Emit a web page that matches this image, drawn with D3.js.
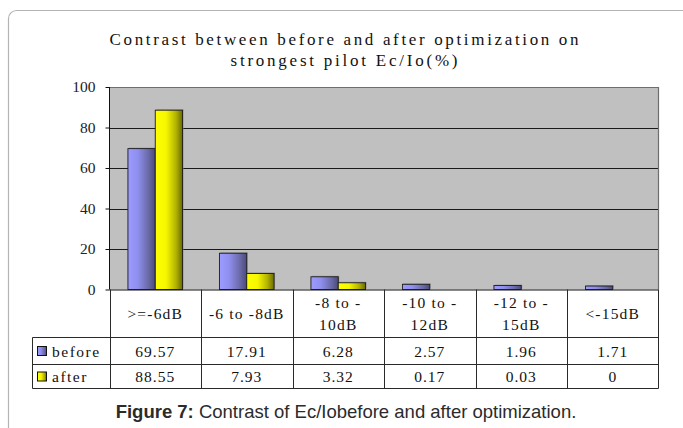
<!DOCTYPE html>
<html>
<head>
<meta charset="utf-8">
<script src="https://cdn.jsdelivr.net/npm/d3@7"></script>
<style>
  html, body { margin: 0; padding: 0; background: #fff; }
  svg { display: block; }
</style>
</head>
<body>
<svg id="chart" width="683" height="428"></svg>
<script>
// Strongest pilot Ec/Io distribution (%), before and after optimization
const categories = [">=-6dB", "-6 to -8dB", "-8 to -\n10dB", "-10 to -\n12dB", "-12 to -\n15dB", "<-15dB"];
const before = [69.57, 17.91, 6.28, 2.57, 1.96, 1.71];
const after = [88.55, 7.93, 3.32, 0.17, 0.03, 0];
const beforeText = ["69.57", "17.91", "6.28", "2.57", "1.96", "1.71"];
const afterText = ["88.55", "7.93", "3.32", "0.17", "0.03", "0"];
const yTicks = [0, 20, 40, 60, 80, 100];
const seriesNames = ["before", "after"];
const titleLines = ["Contrast between before and after optimization on", "strongest pilot Ec/Io(%)"];

const SERIF = "'Liberation Serif', 'Times New Roman', 'DejaVu Serif', serif";
const svg = d3.select("#chart");

// plot geometry
const plotL = 109.5, plotR = 658.5, plotT = 87, plotB = 289.5;
const rowHeader = 337.5, rowBefore = 364.5, rowAfter = 388.5, legendLeft = 32.5;

// outer frame
svg.append("rect")
  .attr("x", 8.5).attr("y", 10.5)
  .attr("width", 682).attr("height", 460)
  .attr("rx", 8)
  .attr("fill", "#fff").attr("stroke", "#b4b4b4").attr("stroke-width", 1.2);

// gradients
const defs = svg.append("defs");
function grad(id, stops) {
  const g = defs.append("linearGradient").attr("id", id)
    .attr("x1", "0%").attr("x2", "100%").attr("y1", "0%").attr("y2", "0%");
  stops.forEach(s => g.append("stop").attr("offset", s[0]).attr("stop-color", s[1]));
}
grad("gBefore", [[0, "#9c9cff"], [0.35, "#8f8ff0"], [0.75, "#6a6aa8"], [1, "#4a4a7c"]]);
grad("gAfter", [[0, "#ffff00"], [0.4, "#f6f600"], [0.75, "#b4b400"], [1, "#6a6a00"]]);
const fills = { before: "url(#gBefore)", after: "url(#gAfter)" };

function serifText(sel, size, spacing) {
  return sel.style("font-family", SERIF)
    .style("font-size", size + "px")
    .style("letter-spacing", (spacing || 0) + "px")
    .attr("fill", "#111");
}

// title
const titleWidths = [469, 227];
serifText(svg.append("g").selectAll("text").data(titleLines).join("text")
  .attr("x", 344)
  .attr("y", (d, i) => 45 + i * 21)
  .attr("text-anchor", "middle")
  .attr("textLength", (d, i) => titleWidths[i])
  .attr("lengthAdjust", "spacing"), 17)
  .text(d => d);

// scales
const x = d3.scaleBand().domain(d3.range(categories.length)).range([plotL, plotR]).padding(0);
const xs = d3.scaleBand().domain(seriesNames).range([0, x.bandwidth()]).paddingInner(0).paddingOuter(0.675);
const y = d3.scaleLinear().domain([0, 100]).range([plotB, plotT]);

// plot background
svg.append("rect")
  .attr("x", plotL).attr("y", plotT)
  .attr("width", plotR - plotL).attr("height", plotB - plotT)
  .attr("fill", "#c0c0c0");

// gridlines
svg.append("g").selectAll("line").data(yTicks.filter(t => t > 0 && t < 100)).join("line")
  .attr("x1", plotL).attr("x2", plotR)
  .attr("y1", d => Math.round(y(d)) + 0.5).attr("y2", d => Math.round(y(d)) + 0.5)
  .attr("stroke", "#1a1a1a").attr("stroke-width", 1);

// plot border (top and right)
svg.append("path")
  .attr("d", `M${plotL},${plotT + 0.5}H${plotR}V${plotB}`)
  .attr("fill", "none").attr("stroke", "#6e6e6e").attr("stroke-width", 1.2);

// bars (bars thinner than a pixel vanish into the axis line)
const series = [before, after];
const barG = svg.append("g");
const barH = v => Math.max(0, plotB - y(v));
seriesNames.forEach((name, si) => {
  const data = series[si].map((v, i) => ({ i, v })).filter(d => barH(d.v) >= 1);
  // soft drop shadow
  barG.append("g").selectAll("rect").data(data).join("rect")
    .attr("x", d => x(d.i) + xs(name) + 1)
    .attr("y", d => y(d.v) - 1)
    .attr("width", xs.bandwidth())
    .attr("height", d => barH(d.v))
    .attr("fill", "#8a8a8a").attr("opacity", 0.7);
  barG.append("g").selectAll("rect").data(data).join("rect")
    .attr("x", d => x(d.i) + xs(name))
    .attr("y", d => y(d.v))
    .attr("width", xs.bandwidth())
    .attr("height", d => barH(d.v))
    .attr("fill", fills[name])
    .attr("stroke", "#1c1c1c").attr("stroke-width", 0.9);
});

// y axis
const yAxis = d3.axisLeft(y).tickValues(yTicks).tickSize(4).tickPadding(10);
const ya = svg.append("g").attr("transform", `translate(${plotL},0)`).call(yAxis);
ya.attr("font-family", null);
ya.select(".domain").attr("stroke", "#111").attr("d", `M0,${plotT}V${plotB}`);
ya.selectAll(".tick line").attr("stroke", "#111");
serifText(ya.selectAll(".tick text"), 15.5).attr("fill", "#222");

// x axis baseline
svg.append("line")
  .attr("x1", plotL).attr("x2", plotR)
  .attr("y1", plotB + 0.5).attr("y2", plotB + 0.5)
  .attr("stroke", "#111").attr("stroke-width", 1.2);

// data table
const tbl = svg.append("g").attr("stroke", "#2a2a2a").attr("stroke-width", 1);
// column separators in the header row
tbl.selectAll("line.hdr").data(d3.range(categories.length + 1)).join("line")
  .attr("class", "hdr")
  .attr("x1", i => i < categories.length ? Math.round(x(i)) + 0.5 : plotR)
  .attr("x2", i => i < categories.length ? Math.round(x(i)) + 0.5 : plotR)
  .attr("y1", plotB).attr("y2", rowAfter);
// legend column edge
tbl.append("line").attr("x1", legendLeft).attr("x2", legendLeft).attr("y1", rowHeader).attr("y2", rowAfter);
// horizontal rules
[rowHeader, rowBefore, rowAfter].forEach(yy => {
  tbl.append("line").attr("x1", legendLeft).attr("x2", plotR).attr("y1", yy).attr("y2", yy);
});

// category labels
const hdr = svg.append("g");
categories.forEach((c, i) => {
  const lines = c.split("\n");
  const cy = (plotB + rowHeader) / 2;
  const t = serifText(hdr.append("text").attr("text-anchor", "middle"), 15.5, 1.2);
  lines.forEach((ln, k) => {
    t.append("tspan")
      .attr("x", x(i) + x.bandwidth() / 2)
      .attr("y", cy + 5 + (k - (lines.length - 1) / 2) * 22)
      .text(ln);
  });
});

// value rows
const rowTexts = [beforeText, afterText];
const rowMid = [(rowHeader + rowBefore) / 2, (rowBefore + rowAfter) / 2];
rowTexts.forEach((vals, r) => {
  serifText(svg.append("g").selectAll("text").data(vals).join("text")
    .attr("x", (d, i) => x(i) + x.bandwidth() / 2)
    .attr("y", rowMid[r] + 5.5)
    .attr("text-anchor", "middle"), 15.5, 1)
    .text(d => d);
  // legend key
  svg.append("rect")
    .attr("x", 37.5).attr("y", rowMid[r] - 4.5)
    .attr("width", 9).attr("height", 9)
    .attr("fill", fills[seriesNames[r]])
    .attr("stroke", "#111").attr("stroke-width", 1);
  serifText(svg.append("text")
    .attr("x", 52)
    .attr("y", rowMid[r] + 5.5), 15.5, 1.5)
    .text(seriesNames[r]);
});

// caption
const cap = svg.append("text")
  .attr("x", 346).attr("y", 418)
  .attr("text-anchor", "middle")
  .style("font-family", "'Liberation Sans', Arial, sans-serif")
  .style("font-size", "18.5px")
  .attr("fill", "#2b2b2b");
cap.append("tspan").style("font-weight", "bold").text("Figure 7:");
cap.append("tspan").text(" Contrast of Ec/Iobefore and after optimization.");
</script>
</body>
</html>
